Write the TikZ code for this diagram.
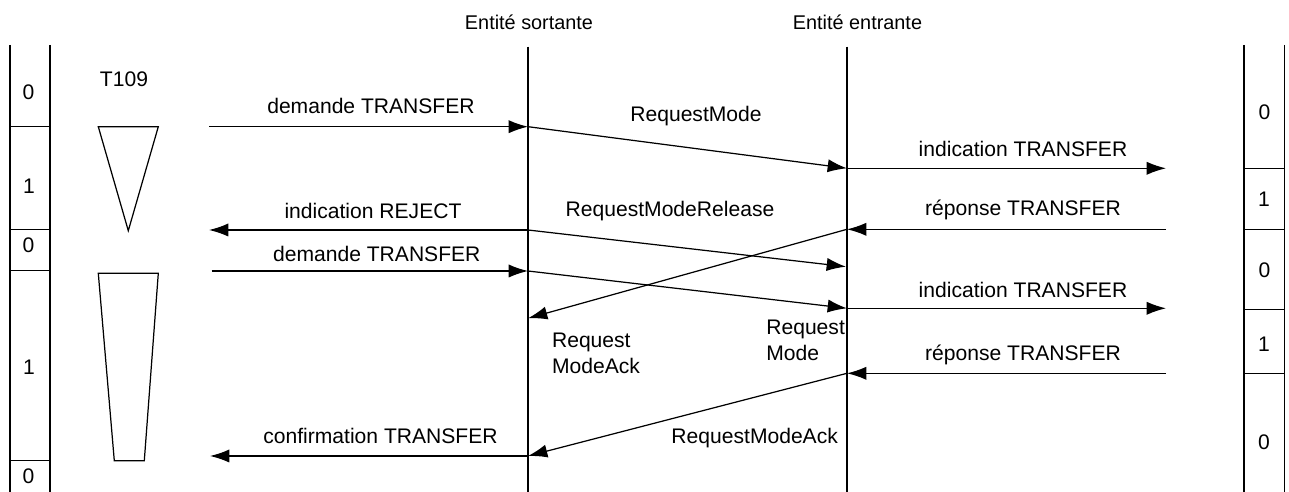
\documentclass[tikz,border=0pt]{standalone}
\usepackage{fontspec}
\setmainfont{Liberation Sans}
\usetikzlibrary{arrows.meta}
\tikzset{
  msg/.style={-{Latex[length=11pt, width=7.5pt]}, line width=0.7pt},
  rule/.style={line width=0.7pt},
  lab/.style={font=\fontsize{12}{14.5}\selectfont, anchor=base, inner sep=0pt},
  labml/.style={lab, align=left, anchor=north west},
  ent/.style={lab, font=\fontsize{11.3}{13}\selectfont},
}

\begin{document}
\begin{tikzpicture}[x=0.02cm, y=-0.02cm]
    \useasboundingbox (0,0) rectangle (1289,492);
    % entities and lifelines
    \node[ent] (entS) at (529,30) {Entité sortante};
    \node[ent] (entE) at (857.5,30) {Entité entrante};
    \draw[rule] (528,46.7) -- (528,492);
    \draw[rule] (847,46.7) -- (847,492);
    % left state bar
    \draw[rule] (10,45) -- (10,492) (50,45) -- (50,492);
    \foreach \y in {126.7,229.3,270.7,460.7}
      \draw[rule] (10,\y) -- (50,\y);
    \node[lab] (lb1) at (28.5,100) {0};
    \node[lab] (lb2) at (29,194) {1};
    \node[lab] (lb3) at (28.5,252.7) {0};
    \node[lab] (lb4) at (29,375) {1};
    \node[lab] (lb5) at (28.5,483.3) {0};
    % right state bar
    \draw[rule] (1244,45) -- (1244,492) (1284.3,45) -- (1284.3,492);
    \foreach \y in {168.3,229.3,309.3,373.3}
      \draw[rule] (1244,\y) -- (1284.3,\y);
    \node[lab] (rb1) at (1264.5,120) {0};
    \node[lab] (rb2) at (1264,206.7) {1};
    \node[lab] (rb3) at (1264.5,277.3) {0};
    \node[lab] (rb4) at (1264,351.7) {1};
    \node[lab] (rb5) at (1264,450) {0};
    % timer T109
    \node[lab] (t109) at (124,86.7) {T109};
    \draw[rule] (98.3,126.7) -- (158.3,126.7) -- (128.3,230.7) -- cycle;
    \draw[rule] (98.3,273.3) -- (158.3,273.3) -- (144.3,460.7) -- (114.3,460.7) -- cycle;
    % message end points
    \coordinate (ul1) at (209,126.7);
    \coordinate (so1) at (528,126.7);
    \coordinate (en1) at (847,168.3);
    \coordinate (ur1) at (1166,168.3);
    \coordinate (ur2) at (1166,229.3);
    \coordinate (en2) at (847,229.3);
    \coordinate (so2) at (528,318.3);
    \coordinate (so3) at (528,230);
    \coordinate (ul3) at (209,230);
    \coordinate (en3) at (846,266.7);
    \coordinate (ul4) at (211.7,271);
    \coordinate (so4) at (528,271);
    \coordinate (en4) at (847,308.3);
    \coordinate (ur4) at (1166,308.3);
    \coordinate (ur5) at (1166,373.3);
    \coordinate (en5) at (847,373.3);
    \coordinate (so5) at (528,456);
    \coordinate (ul5) at (210,456);
    % messages
    \draw[msg] (ul1) -- (so1);
    \draw[msg] (so1) -- (en1);
    \draw[msg] (en1) -- (ur1);
    \draw[msg] (ur2) -- (en2);
    \draw[msg] (en2) -- (so2);
    \draw[msg] (so3) -- (ul3);
    \draw[msg] (so3) -- (en3);
    \draw[msg] (ul4) -- (so4);
    \draw[msg] (so4) -- (en4);
    \draw[msg] (en4) -- (ur4);
    \draw[msg] (ur5) -- (en5);
    \draw[msg] (en5) -- (so5);
    \draw[msg] (so5) -- (ul5);
    % message labels
    \node[lab] (dem1) at (371,113.3) {demande TRANSFER};
    \node[lab] (req1) at (696,121.7) {RequestMode};
    \node[lab] (ind1) at (1023,156.7) {indication TRANSFER};
    \node[lab] (rep1) at (1023,216) {réponse TRANSFER};
    \node[lab] (rej) at (373,218.3) {indication REJECT};
    \node[lab] (rel) at (670,216.7) {RequestModeRelease};
    \node[lab] (dem2) at (376.8,261.7) {demande TRANSFER};
    \node[lab] (ind2) at (1023,297.3) {indication TRANSFER};
    \node[labml] (ack1) at (551.7,333) {Request\\ModeAck};
    \node[labml] (req2) at (766,319.7) {Request\\Mode};
    \node[lab] (rep2) at (1023,360.7) {réponse TRANSFER};
    \node[lab] (ack2) at (754.7,443.3) {RequestModeAck};
    \node[lab] (conf) at (380.5,443.3) {confirmation TRANSFER};
  \end{tikzpicture}
\end{document}
